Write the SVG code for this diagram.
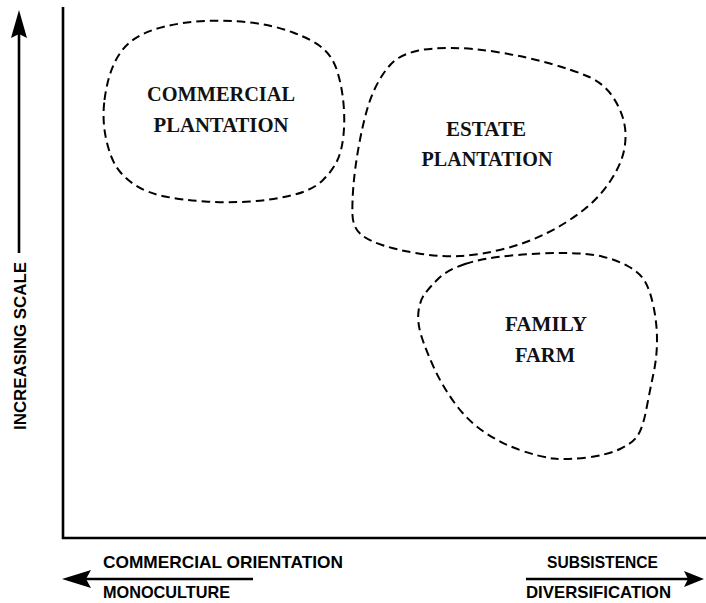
<svg xmlns="http://www.w3.org/2000/svg" width="706" height="603" viewBox="0 0 706 603">
<style>
.axis{stroke:#000;stroke-width:2.6;fill:none}
.blob{stroke:#000;stroke-width:2;fill:none;stroke-dasharray:8.5 5}
.lbl{font-family:"Liberation Serif","Times New Roman",serif;font-weight:bold;font-size:21px;fill:#111;text-anchor:middle}
.ax{font-family:"Liberation Sans",Arial,sans-serif;font-weight:bold;font-size:17px;fill:#000}
.head{fill:#000}
</style>
<rect width="706" height="603" fill="#fff"/>
<g id="axes">
<path class="axis" d="M63,7 V538 H706"/>
</g>
<g id="connectors">
<line class="axis" x1="19" y1="34" x2="19" y2="253"/>
<polygon class="head" points="19,10 27,38 19,34 11,38"/>
<line class="axis" x1="86" y1="579" x2="253" y2="579"/>
<polygon class="head" points="62,579 91,570 86,579 91,588"/>
<line class="axis" x1="526" y1="579" x2="688" y2="579"/>
<polygon class="head" points="704,579 684,571 688,579 684,587"/>
</g>
<g id="commercial-plantation">
<path class="blob" d="M 104.5,100 Q 107,80 113.5,65 Q 120,50 131.5,41 Q 143,32 163,27 Q 183,22 205,21 Q 227,20 250,22.5 Q 273,25 293,32.5 Q 313,40 323,48.5 Q 333,57 337.5,72 Q 342,87 343.5,103.5 Q 345,120 343.5,135 Q 342,150 337.5,160 Q 333,170 323,180 Q 313,190 293,195 Q 273,200 250,201.5 Q 227,203 205,201.5 Q 183,200 165,196.5 Q 147,193 135,185 Q 123,177 116.5,167 Q 110,157 106,138.5 Q 102,120 104.5,100 Z"/>
<text class="lbl" x="221" y="101" textLength="148" lengthAdjust="spacingAndGlyphs">COMMERCIAL</text>
<text class="lbl" x="221" y="132" textLength="135" lengthAdjust="spacingAndGlyphs">PLANTATION</text>
</g>
<g id="estate-plantation">
<path class="blob" d="M 398.5,58 Q 407,53 418.5,50.5 Q 430,48 451.5,48 Q 473,48 500,52.5 Q 527,57 550,63.5 Q 573,70 588,76.5 Q 603,83 611.5,95 Q 620,107 623.5,120 Q 627,133 624.5,148 Q 622,163 611,180 Q 600,197 583.5,210 Q 567,223 547,233 Q 527,243 503.5,249 Q 480,255 460,256 Q 440,257 418.5,253.5 Q 397,250 382,245 Q 367,240 360,233.5 Q 353,227 352.5,215 Q 352,203 353.5,185 Q 355,167 359,145 Q 363,123 368,106.5 Q 373,90 381.5,76.5 Q 390,63 398.5,58 Z"/>
<text class="lbl" x="486" y="136" textLength="80" lengthAdjust="spacingAndGlyphs">ESTATE</text>
<text class="lbl" x="487" y="166" textLength="131" lengthAdjust="spacingAndGlyphs">PLANTATION</text>
</g>
<g id="family-farm">
<path class="blob" d="M 465,264 Q 483,258 511.5,255.5 Q 540,253 563.5,253 Q 587,253 602,256.5 Q 617,260 628.5,266.5 Q 640,273 645,281.5 Q 650,290 653.5,306.5 Q 657,323 657,340 Q 657,357 653.5,373.5 Q 650,390 646.5,408.5 Q 643,427 638,435 Q 633,443 620,449 Q 607,455 587,457.5 Q 567,460 553.5,458.5 Q 540,457 520,450 Q 500,443 483.5,431.5 Q 467,420 455,403.5 Q 443,387 435,370 Q 427,353 422,338 Q 417,323 418.5,311.5 Q 420,300 425,293.5 Q 430,287 438.5,278.5 Q 447,270 465,264 Z"/>
<text class="lbl" x="546" y="331" textLength="82" lengthAdjust="spacingAndGlyphs">FAMILY</text>
<text class="lbl" x="545" y="362" textLength="60" lengthAdjust="spacingAndGlyphs">FARM</text>
</g>
<g id="axis-labels">
<text class="ax" transform="translate(26,430) rotate(-90)" x="0" y="0" textLength="168" lengthAdjust="spacingAndGlyphs">INCREASING SCALE</text>
<text class="ax" x="103" y="568" textLength="240" lengthAdjust="spacingAndGlyphs">COMMERCIAL ORIENTATION</text>
<text class="ax" x="103" y="598" textLength="127" lengthAdjust="spacingAndGlyphs">MONOCULTURE</text>
<text class="ax" x="547" y="568" textLength="111" lengthAdjust="spacingAndGlyphs">SUBSISTENCE</text>
<text class="ax" x="526" y="598" textLength="145" lengthAdjust="spacingAndGlyphs">DIVERSIFICATION</text>
</g>
</svg>
